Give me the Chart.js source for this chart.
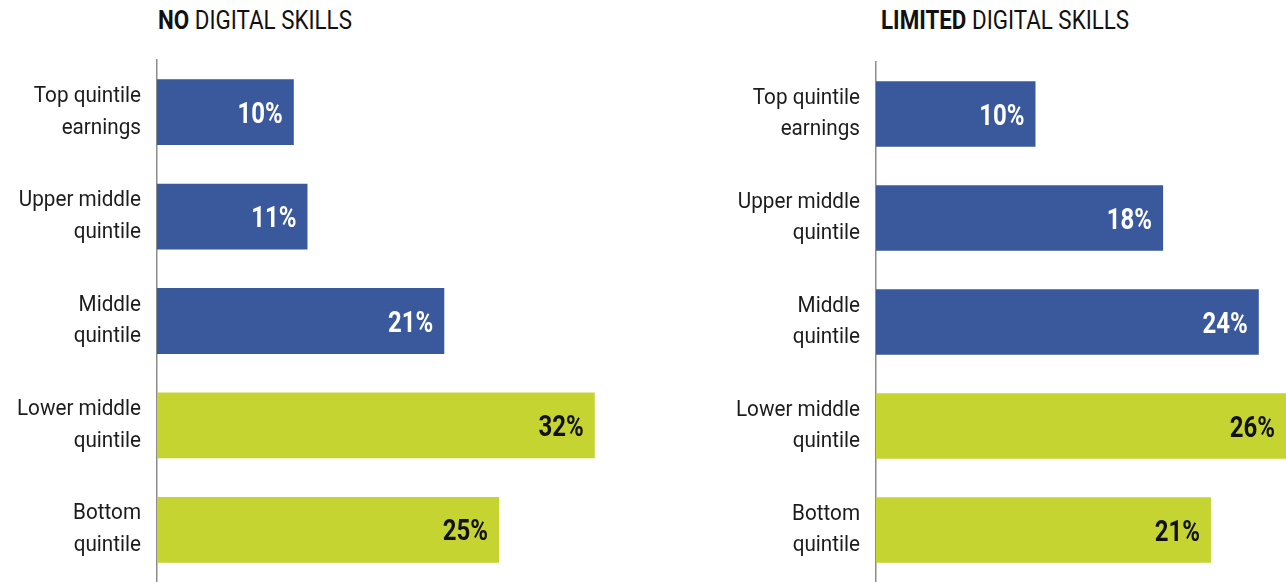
<!DOCTYPE html>
<html>
<head>
<meta charset="utf-8">
<script src="https://cdn.jsdelivr.net/npm/chart.js@4.4.1/dist/chart.umd.min.js"></script>
<style>
  html, body { margin: 0; padding: 0; background: #fff; }
  body { width: 1286px; height: 582px; position: relative; overflow: hidden; font-family: Roboto, sans-serif; }
  .title { position: absolute; top: 7px; font-size: 26px; line-height: 26px; color: #111;
           white-space: nowrap; transform: scaleX(0.86); transform-origin: left top; }
  .title b { font-weight: bold; }
  .box { position: absolute; top: 0; height: 582px; }
</style>
</head>
<body>
<div class="title" style="left:158px"><b>NO</b> DIGITAL SKILLS</div>
<div class="title" style="left:881px"><b>LIMITED</b> DIGITAL SKILLS</div>
<div class="box" style="left:0;width:624px"><canvas id="leftChart"></canvas></div>
<div class="box" style="left:640px;width:646px"><canvas id="rightChart"></canvas></div>
<script>
const categories = [
  ['Top quintile', 'earnings'],
  ['Upper middle', 'quintile'],
  ['Middle', 'quintile'],
  ['Lower middle', 'quintile'],
  ['Bottom', 'quintile']
];
const noSkills = [10, 11, 21, 32, 25];
const limitedSkills = [10, 18, 24, 26, 21];

const BLUE = '#3a599d';
const GREEN = '#c5d431';
const barColors = [BLUE, BLUE, BLUE, GREEN, GREEN];
const labelColors = ['#ffffff', '#ffffff', '#ffffff', '#111111', '#111111'];

// the original type is a condensed face, so squeeze Roboto a bit
const TICK_SQUEEZE = 0.94;
const VALUE_SQUEEZE = 0.8;

// value drawn inside the end of each bar
const valueLabels = {
  id: 'valueLabels',
  afterDatasetsDraw(chart) {
    const ctx = chart.ctx;
    const meta = chart.getDatasetMeta(0);
    const data = chart.data.datasets[0].data;
    ctx.save();
    ctx.font = 'bold 30px Roboto';
    ctx.textAlign = 'right';
    ctx.textBaseline = 'alphabetic';
    meta.data.forEach(function (bar, i) {
      const end = Math.min(bar.x, chart.chartArea.right);
      ctx.save();
      ctx.translate(end - 11, bar.y + 10.5);
      ctx.scale(VALUE_SQUEEZE, 1);
      ctx.fillStyle = labelColors[i];
      ctx.fillText(data[i] + '%', 0, 0);
      ctx.restore();
    });
    ctx.restore();
  }
};

function draw(canvas, values, max, axisWidth, top) {
  return new Chart(canvas, {
    type: 'bar',
    data: {
      labels: categories,
      datasets: [{
        data: values,
        backgroundColor: barColors,
        borderWidth: 0,
        barPercentage: 0.63,
        categoryPercentage: 1
      }]
    },
    options: {
      indexAxis: 'y',
      responsive: true,
      maintainAspectRatio: false,
      animation: false,
      layout: { padding: { top: top, bottom: 0, left: 0, right: 0 } },
      plugins: { legend: { display: false }, tooltip: { enabled: false } },
      scales: {
        x: { display: false, min: 0, max: max },
        y: {
          grid: { display: false, drawTicks: false },
          border: { display: true, color: '#8c8c8c', width: 1.5 },
          ticks: {
            color: '#1c1c1c',
            padding: 17,
            font: { family: 'Roboto', size: 22, lineHeight: 1.45 }
          },
          afterFit: function (scale) {
            scale.width = axisWidth;
            scale.paddingTop = 0;
            scale.paddingBottom = 0;
            if (!scale._squeezed) {
              const base = scale.drawLabels;
              scale.drawLabels = function (area) {
                const ctx = this.ctx;
                ctx.save();
                ctx.translate(this.right, 0);
                ctx.scale(TICK_SQUEEZE, 1);
                ctx.translate(-this.right, 0);
                base.call(this, area);
                ctx.restore();
              };
              scale._squeezed = true;
            }
          }
        }
      }
    },
    plugins: [valueLabels]
  });
}

draw(document.getElementById('leftChart'), noSkills, 467 / 13.68, 157, 60);
draw(document.getElementById('rightChart'), limitedSkills, 410 / 15.95, 236, 62);
</script>
</body>
</html>
